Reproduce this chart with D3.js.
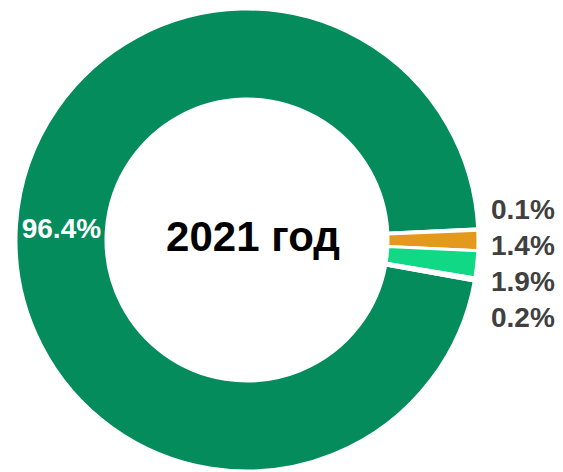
<!DOCTYPE html>
<html><head><meta charset="utf-8">
<script src="https://cdn.jsdelivr.net/npm/d3@7"></script>
<style>
html,body{margin:0;padding:0;background:#fff;}
svg{display:block;font-family:"Liberation Sans",Arial,sans-serif;}
</style></head>
<body>
<svg id="chart" width="563" height="472"></svg>
<script>
// Data
const categories = ["A", "B", "C", "D", "E"];
const values = [96.4, 0.1, 1.4, 1.9, 0.2];
const labels = ["96.4%", "0.1%", "1.4%", "1.9%", "0.2%"];
const colors = ["#058c5c", "#ffffff", "#e3991b", "#10d884", "#ffffff"];
const title = "2021 год";

const W = 563, H = 472;
const cx = 247, cy = 240, R = 231, r0 = 141;
const startDeg = 100.2;
const svg = d3.select("#chart");
const g = svg.append("g").attr("transform", `translate(${cx},${cy})`);

const pie = d3.pie().sort(null).value(d => d)
  .startAngle(startDeg * Math.PI / 180)
  .endAngle(startDeg * Math.PI / 180 + 2 * Math.PI);
const arcs = pie(values);
const arc = d3.arc().innerRadius(r0).outerRadius(R);

g.selectAll("path.slice").data(arcs).enter().append("path")
  .attr("class", "slice")
  .attr("d", arc)
  .attr("fill", (d, i) => colors[i])
  .attr("stroke", "#fff")
  .attr("stroke-width", 3)
  .attr("stroke-linejoin", "miter");

const mid = d => (d.startAngle + d.endAngle) / 2;
arcs.forEach((d, i) => {
  if (d.value > 50) {
    const c = arc.centroid(d);
    g.append("text")
      .attr("x", c[0]).attr("y", c[1])
      .attr("dy", "0.35em")
      .attr("text-anchor", "middle")
      .attr("font-size", 28).attr("font-weight", "bold")
      .attr("fill", "#fff")
      .text(labels[i]);
  }
});

// outside labels with simple collision relaxation
const rl = 400, gap = 36;
let outs = arcs.map((d, i) => ({i, y: -rl * Math.cos(mid(d))}))
  .filter(o => arcs[o.i].value <= 50)
  .sort((a, b) => a.y - b.y);
for (let it = 0; it < 300; it++) {
  for (let k = 1; k < outs.length; k++) {
    const ov = gap - (outs[k].y - outs[k - 1].y);
    if (ov > 0) { outs[k].y += ov / 2; outs[k - 1].y -= ov / 2; }
  }
}
outs.forEach(o => {
  g.append("text")
    .attr("x", R + 13).attr("y", o.y)
    .attr("dy", "0.35em")
    .attr("text-anchor", "start")
    .attr("font-size", 28).attr("font-weight", "bold")
    .attr("fill", "#404040")
    .text(labels[o.i]);
});

// center title
svg.append("text")
  .attr("x", 253).attr("y", 236)
  .attr("dy", "0.35em")
  .attr("text-anchor", "middle")
  .attr("font-size", 42).attr("font-weight", "bold")
  .attr("fill", "#000")
  .text(title);
</script>
</body></html>
